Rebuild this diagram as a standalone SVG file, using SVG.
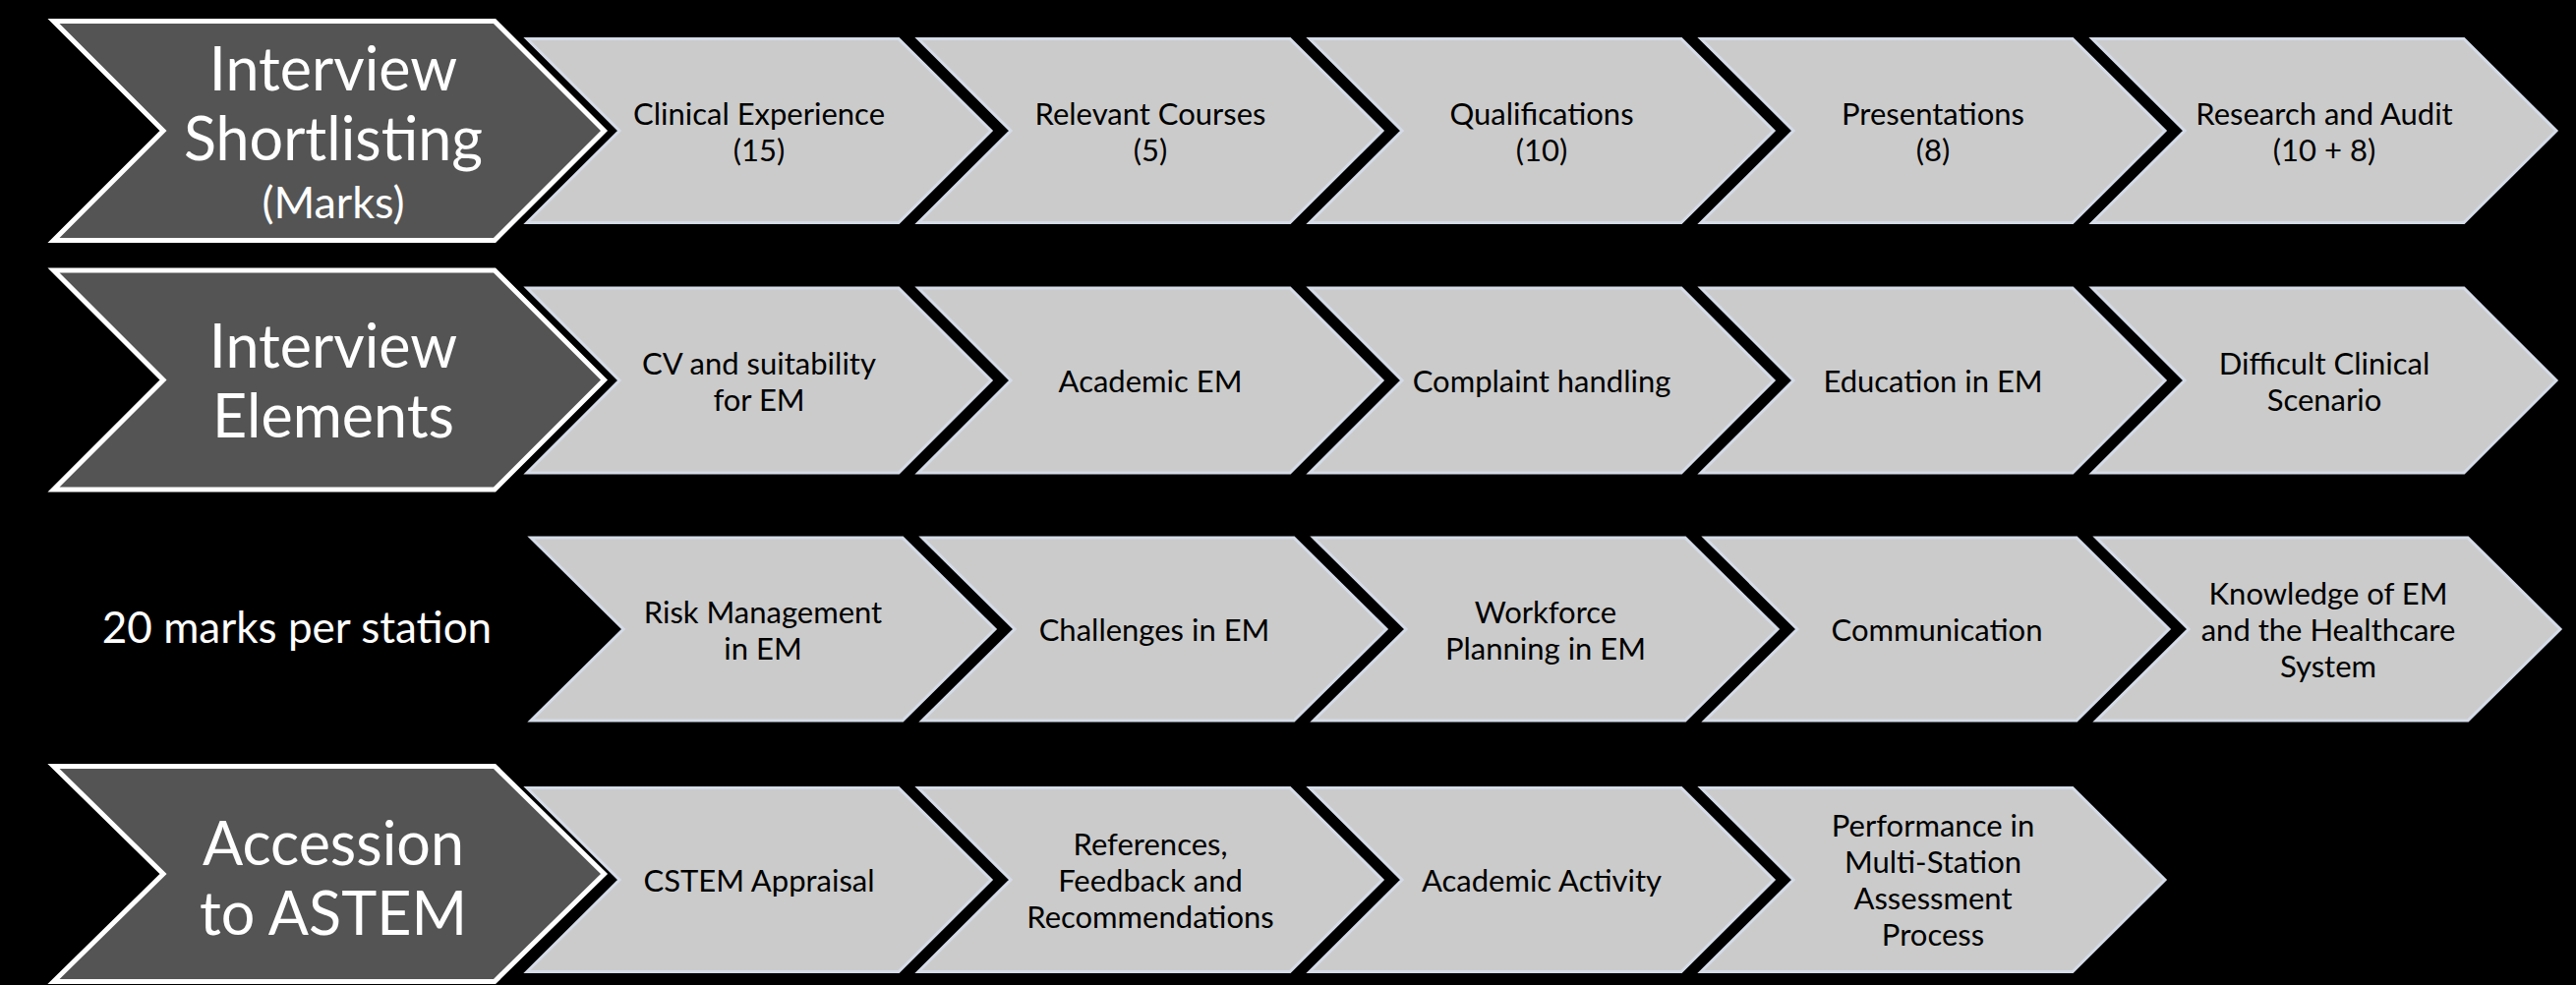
<svg xmlns="http://www.w3.org/2000/svg" width="2620" height="1002" viewBox="0 0 2620 1002">
<defs>
<style>
.hdr{fill:#545454;stroke:#ffffff;stroke-width:5;stroke-linejoin:miter}
.chev{fill:#cbcbcb;stroke:#d5dce8;stroke-width:3;stroke-linejoin:miter}
.ht{font-family:Lato,"Liberation Sans",sans-serif;fill:#ffffff;text-anchor:middle;font-size:61px}
.hs{font-family:Lato,"Liberation Sans",sans-serif;fill:#ffffff;text-anchor:middle;font-size:45px}
.nt{font-family:Lato,"Liberation Sans",sans-serif;fill:#ffffff;text-anchor:middle;font-size:44px}
.ct{font-family:Lato,"Liberation Sans",sans-serif;fill:#000000;text-anchor:middle;font-size:31px}
</style>
</defs>
<rect x="0" y="0" width="2620" height="1002" fill="#000000"/>

<!-- Row 1 -->
<g id="hdr-shortlisting">
<polygon class="hdr" points="54.5,21.5 503,21.5 614.5,133 503,244.5 54.5,244.5 166,133"/>
<text class="ht" x="339" y="92">Interview</text>
<text class="ht" x="339" y="163">Shortlisting</text>
<text class="hs" x="339" y="222">(Marks)</text>
</g>
<g id="r1c1"><polygon class="chev" points="536,39.5 914,39.5 1008,133 914,226.5 536,226.5 630,133"/><text class="ct" x="772" y="127">Clinical Experience</text><text class="ct" x="772" y="164">(15)</text></g>
<g id="r1c2"><polygon class="chev" points="934,39.5 1312,39.5 1406,133 1312,226.5 934,226.5 1028,133"/><text class="ct" x="1170" y="127">Relevant Courses</text><text class="ct" x="1170" y="164">(5)</text></g>
<g id="r1c3"><polygon class="chev" points="1332,39.5 1710,39.5 1804,133 1710,226.5 1332,226.5 1426,133"/><text class="ct" x="1568" y="127">Qualifications</text><text class="ct" x="1568" y="164">(10)</text></g>
<g id="r1c4"><polygon class="chev" points="1730,39.5 2108,39.5 2202,133 2108,226.5 1730,226.5 1824,133"/><text class="ct" x="1966" y="127">Presentations</text><text class="ct" x="1966" y="164">(8)</text></g>
<g id="r1c5"><polygon class="chev" points="2128,39.5 2506,39.5 2600,133 2506,226.5 2128,226.5 2222,133"/><text class="ct" x="2364" y="127">Research and Audit</text><text class="ct" x="2364" y="164">(10 + 8)</text></g>

<!-- Row 2 -->
<g id="hdr-elements">
<polygon class="hdr" points="54.5,275 503,275 614.5,386.5 503,498 54.5,498 166,386.5"/>
<text class="ht" x="339" y="374">Interview</text>
<text class="ht" x="339" y="445">Elements</text>
</g>
<g id="r2c1"><polygon class="chev" points="536,293 914,293 1008,387 914,481 536,481 630,387"/><text class="ct" x="772" y="381">CV and suitability</text><text class="ct" x="772" y="418">for EM</text></g>
<g id="r2c2"><polygon class="chev" points="934,293 1312,293 1406,387 1312,481 934,481 1028,387"/><text class="ct" x="1170" y="399">Academic EM</text></g>
<g id="r2c3"><polygon class="chev" points="1332,293 1710,293 1804,387 1710,481 1332,481 1426,387"/><text class="ct" x="1568" y="399">Complaint handling</text></g>
<g id="r2c4"><polygon class="chev" points="1730,293 2108,293 2202,387 2108,481 1730,481 1824,387"/><text class="ct" x="1966" y="399">Education in EM</text></g>
<g id="r2c5"><polygon class="chev" points="2128,293 2506,293 2600,387 2506,481 2128,481 2222,387"/><text class="ct" x="2364" y="381">Difficult Clinical</text><text class="ct" x="2364" y="418">Scenario</text></g>

<!-- Row 3 -->
<g id="note-marks">
<text class="nt" x="302" y="654">20 marks per station</text>
</g>
<g id="r3c1"><polygon class="chev" points="540,547 918,547 1012,640 918,733 540,733 634,640"/><text class="ct" x="776" y="634">Risk Management</text><text class="ct" x="776" y="671">in EM</text></g>
<g id="r3c2"><polygon class="chev" points="938,547 1316,547 1410,640 1316,733 938,733 1032,640"/><text class="ct" x="1174" y="652">Challenges in EM</text></g>
<g id="r3c3"><polygon class="chev" points="1336,547 1714,547 1808,640 1714,733 1336,733 1430,640"/><text class="ct" x="1572" y="634">Workforce</text><text class="ct" x="1572" y="671">Planning in EM</text></g>
<g id="r3c4"><polygon class="chev" points="1734,547 2112,547 2206,640 2112,733 1734,733 1828,640"/><text class="ct" x="1970" y="652">Communication</text></g>
<g id="r3c5"><polygon class="chev" points="2132,547 2510,547 2604,640 2510,733 2132,733 2226,640"/><text class="ct" x="2368" y="615">Knowledge of EM</text><text class="ct" x="2368" y="652">and the Healthcare</text><text class="ct" x="2368" y="689">System</text></g>

<!-- Row 4 -->
<g id="hdr-accession">
<polygon class="hdr" points="54.5,779.5 503,779.5 614.5,889 503,998.5 54.5,998.5 166,889"/>
<text class="ht" x="339" y="880">Accession</text>
<text class="ht" x="339" y="951">to ASTEM</text>
</g>
<g id="r4c1"><polygon class="chev" points="536,801.5 914,801.5 1008,895 914,988.5 536,988.5 630,895"/><text class="ct" x="772" y="907">CSTEM Appraisal</text></g>
<g id="r4c2"><polygon class="chev" points="934,801.5 1312,801.5 1406,895 1312,988.5 934,988.5 1028,895"/><text class="ct" x="1170" y="870">References,</text><text class="ct" x="1170" y="907">Feedback and</text><text class="ct" x="1170" y="944">Recommendations</text></g>
<g id="r4c3"><polygon class="chev" points="1332,801.5 1710,801.5 1804,895 1710,988.5 1332,988.5 1426,895"/><text class="ct" x="1568" y="907">Academic Activity</text></g>
<g id="r4c4"><polygon class="chev" points="1730,801.5 2108,801.5 2202,895 2108,988.5 1730,988.5 1824,895"/><text class="ct" x="1966" y="851">Performance in</text><text class="ct" x="1966" y="888">Multi-Station</text><text class="ct" x="1966" y="925">Assessment</text><text class="ct" x="1966" y="962">Process</text></g>

<g id="connectors"/>
</svg>
